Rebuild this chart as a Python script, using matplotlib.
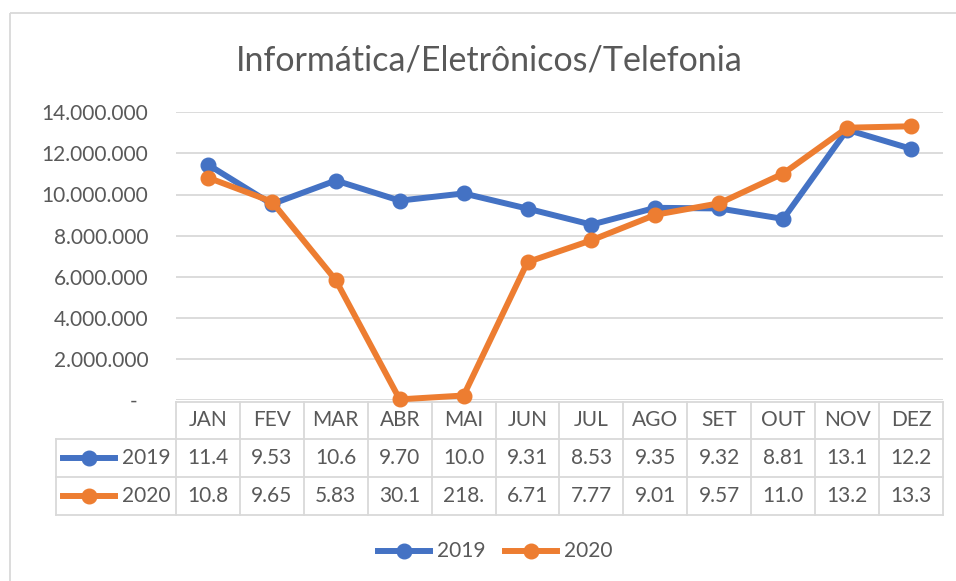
import matplotlib
matplotlib.use("Agg")
import matplotlib.pyplot as plt
from matplotlib.lines import Line2D
from matplotlib.patches import Rectangle
from matplotlib.ticker import FuncFormatter, MultipleLocator

months = ["JAN", "FEV", "MAR", "ABR", "MAI", "JUN", "JUL", "AGO", "SET", "OUT", "NOV", "DEZ"]
s2019 = [11452000, 9532000, 10680000, 9702000, 10052000, 9312000,
         8534000, 9352000, 9321000, 8812000, 13150000, 12225000]
s2020 = [10821000, 9653000, 5832000, 30120, 218400, 6712000,
         7773000, 9012000, 9573000, 11020000, 13250000, 13320000]
series_names = ["2019", "2020"]
colors = ["#4472C4", "#ED7D31"]
title = "Informática/Eletrônicos/Telefonia"

FONT = "Lato"
TXT = "#595959"
GRID = "#D9D9D9"
W, H = 956, 581

plt.rcParams["font.family"] = [FONT, "DejaVu Sans"]

def fmt_thousands(v):
    return f"{int(round(v)):,}".replace(",", ".")

def cell_text(v):
    return fmt_thousands(v)[:4]

fig = plt.figure(figsize=(W / 100, H / 100), dpi=100)

# overlay in pixel coordinates
ov = fig.add_axes([0, 0, 1, 1])
ov.set_xlim(0, W)
ov.set_ylim(H, 0)
ov.axis("off")

# outer frame
ov.add_patch(Rectangle((10, 13), W + 20, H + 20, fill=False, ec=GRID, lw=1.3))

x0, x1 = 176, 943
y_top, y_zero = 112.3, 400.0
ax = fig.add_axes([x0 / W, 1 - y_zero / H, (x1 - x0) / W, (y_zero - y_top) / H])
ax.set_xlim(0, 12)
ax.set_ylim(0, 14000000)
for sp in ax.spines.values():
    sp.set_visible(False)
ax.yaxis.set_major_locator(MultipleLocator(2000000))
ax.yaxis.set_major_formatter(FuncFormatter(lambda v, p: "-  " if v == 0 else fmt_thousands(v)))
ax.tick_params(axis="y", length=0, pad=20, labelsize=15, labelcolor=TXT)
ax.set_xticks([])
ax.grid(axis="y", color=GRID, lw=1.3)
ax.set_axisbelow(True)
ax.patch.set_alpha(0)

xs = [i + 0.5 for i in range(len(months))]
for vals, c in zip([s2019, s2020], colors):
    ax.plot(xs, vals, color=c, lw=4.3, marker="o", ms=10.5, clip_on=False, zorder=3)

# title
ov.text(489, 60, title, ha="center", va="center", fontsize=24.5, color=TXT, fontweight="normal")

# data table
colw = (x1 - x0) / 12
rows_y = [402, 439, 477, 515]
ov.plot([x0, x1], [rows_y[0]] * 2, color=GRID, lw=1.3)
for yy in rows_y[1:]:
    ov.plot([56, x1], [yy, yy], color=GRID, lw=1.3)
ov.plot([56, 56], [rows_y[1], rows_y[3]], color=GRID, lw=1.3)
for i in range(13):
    xx = x0 + i * colw
    ov.plot([xx, xx], [rows_y[0], rows_y[3]], color=GRID, lw=1.3)

for i, m in enumerate(months):
    cx = x0 + (i + 0.5) * colw
    ov.text(cx, (rows_y[0] + rows_y[1]) / 2, m, ha="center", va="center", fontsize=15, color=TXT)
    for r, vals in enumerate([s2019, s2020]):
        ov.text(cx, (rows_y[r + 1] + rows_y[r + 2]) / 2, cell_text(vals[i]),
                ha="center", va="center", fontsize=15, color=TXT)

for r, (name, c) in enumerate(zip(series_names, colors)):
    cy = (rows_y[r + 1] + rows_y[r + 2]) / 2
    ov.add_line(Line2D([63, 115], [cy, cy], color=c, lw=4.3))
    ov.add_line(Line2D([89], [cy], color=c, marker="o", ms=10.5))
    ov.text(171, cy, name, ha="right", va="center", fontsize=15, color=TXT)

# bottom legend
ly = 551
for (lx0, lx1, tx), name, c in zip([(378, 430, 437), (505, 557, 564)], series_names, colors):
    ov.add_line(Line2D([lx0, lx1], [ly, ly], color=c, lw=4.3))
    ov.add_line(Line2D([(lx0 + lx1) / 2], [ly], color=c, marker="o", ms=10.5))
    ov.text(tx, ly, name, ha="left", va="center", fontsize=15, color=TXT)

fig.savefig("out.png", dpi=100)
